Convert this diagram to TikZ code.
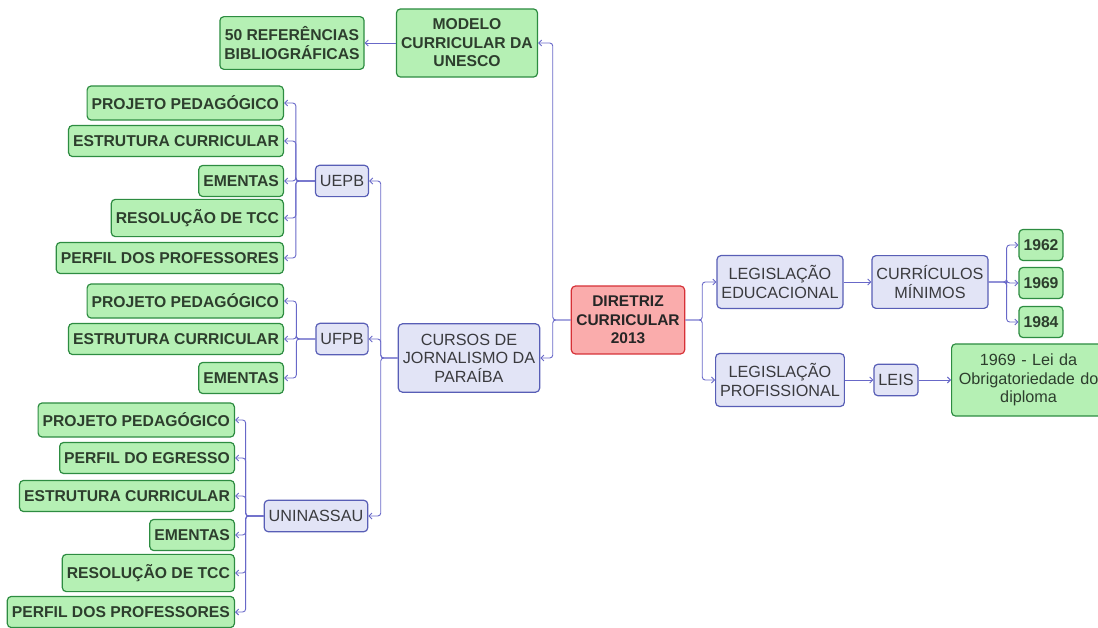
\documentclass[tikz,border=0pt]{standalone}
\usepackage{fontspec}
\setmainfont{Liberation Sans}
\definecolor{leafgreen}{RGB}{181, 240, 180}
\definecolor{leafedge}{RGB}{45, 140, 65}
\definecolor{leaftext}{RGB}{45, 62, 45}
\definecolor{hubblue}{RGB}{226, 228, 246}
\definecolor{hubedge}{RGB}{88, 94, 182}
\definecolor{hubtext}{RGB}{58, 58, 62}
\definecolor{rootred}{RGB}{250, 172, 172}
\definecolor{rootedge}{RGB}{214, 48, 54}
\definecolor{linkblue}{RGB}{104, 104, 200}
\usetikzlibrary{arrows.meta, calc}

\begin{document}
\begin{tikzpicture}[x=1pt, y=-1pt,
    leaf/.style={draw=leafedge, fill=leafgreen, line width=1.2pt, rounded corners=4pt,
      inner xsep=4.5pt, inner ysep=10pt, minimum height=31pt, align=center, text=leaftext,
      font=\fontsize{15.7}{18.5}\selectfont\bfseries},
    hub/.style={draw=hubedge, fill=hubblue, line width=1.2pt, rounded corners=4pt,
      inner xsep=4.5pt, inner ysep=10pt, minimum height=31pt, align=center, text=hubtext,
      font=\fontsize{16.2}{18.5}\selectfont},
    root/.style={draw=rootedge, fill=rootred, line width=1.2pt, rounded corners=4pt,
      inner xsep=5pt, inner ysep=10pt, align=center, text=black!85,
      font=\fontsize{15.5}{18.5}\selectfont\bfseries},
    conn/.style={draw=linkblue, line width=0.9pt, rounded corners=3pt,
      -{Straight Barb[length=3pt, width=6pt]}}]
  \useasboundingbox (0,0) rectangle (1098,628);

  % Root
  \node[root] (diretriz) at (628, 320) {DIRETRIZ\\CURRICULAR\\2013};

  % UNESCO branch
  \node[leaf, minimum width=141pt] (modelo) at (467, 43) {MODELO\\CURRICULAR DA\\UNESCO};
  \node[leaf] (refs) at (292, 43) {50 REFERÊNCIAS\\BIBLIOGRÁFICAS};

  % Cursos branch
  \node[hub, minimum width=141pt] (cursos) at (469, 358) {CURSOS DE\\JORNALISMO DA\\PARAÍBA};
  \node[hub] (uepb) at (342, 181) {UEPB};
  \node[hub] (ufpb) at (342, 339) {UFPB};
  \node[hub] (uninassau) at (316, 516) {UNINASSAU};

  % UEPB
  \node[leaf, anchor=east] (uepb1) at (284, 103) {PROJETO PEDAGÓGICO};
  \node[leaf, anchor=east] (uepb2) at (284, 141) {ESTRUTURA CURRICULAR};
  \node[leaf, anchor=east] (uepb3) at (284, 181) {EMENTAS};
  \node[leaf, anchor=east] (uepb4) at (284, 218) {RESOLUÇÃO DE TCC};
  \node[leaf, anchor=east] (uepb5) at (284, 258) {PERFIL DOS PROFESSORES};

  % UFPB
  \node[leaf, anchor=east] (ufpb1) at (284, 301) {PROJETO PEDAGÓGICO};
  \node[leaf, anchor=east] (ufpb2) at (284, 339) {ESTRUTURA CURRICULAR};
  \node[leaf, anchor=east] (ufpb3) at (284, 378) {EMENTAS};

  % UNINASSAU
  \node[leaf, anchor=east] (unin1) at (235, 420) {PROJETO PEDAGÓGICO};
  \node[leaf, anchor=east] (unin2) at (235, 458) {PERFIL DO EGRESSO};
  \node[leaf, anchor=east] (unin3) at (235, 496) {ESTRUTURA CURRICULAR};
  \node[leaf, anchor=east] (unin4) at (235, 535) {EMENTAS};
  \node[leaf, anchor=east] (unin5) at (235, 573) {RESOLUÇÃO DE TCC};
  \node[leaf, anchor=east] (unin6) at (235, 612) {PERFIL DOS PROFESSORES};

  % Legislation branch
  \node[hub] (legedu) at (780, 282) {LEGISLAÇÃO\\EDUCACIONAL};
  \node[hub] (curric) at (930, 282) {CURRÍCULOS\\MÍNIMOS};
  \node[leaf] (y1962) at (1041, 245) {1962};
  \node[leaf] (y1969) at (1041, 283) {1969};
  \node[leaf] (y1984) at (1041, 322) {1984};
  \node[hub] (legprof) at (780, 380) {LEGISLAÇÃO\\PROFISSIONAL};
  \node[hub] (leis) at (896, 380) {LEIS};
  \node[leaf, anchor=west, inner xsep=2pt, text width=150pt,
    font=\fontsize{16.2}{18.5}\selectfont] (lei1969) at (951, 380) {1969 - Lei da\\Obrigatoriedade do\\diploma};

  % Connectors, left side
  \draw[conn] (diretriz.west) -- ++(-18,0) |- (modelo.east);
  \draw[conn] (diretriz.west) -- ++(-18,0) |- (cursos.east);
  \draw[conn] (modelo.west) -- (refs.east);
  \draw[conn] (cursos.west) -- ++(-17,0) |- (uepb.east);
  \draw[conn] (cursos.west) -- ++(-17,0) |- (ufpb.east);
  \draw[conn] (cursos.west) -- ++(-17,0) |- (uninassau.east);
  \draw[conn] (uepb.west) -- ++(-19,0) |- (uepb1.east);
  \draw[conn] (uepb.west) -- ++(-19,0) |- (uepb2.east);
  \draw[conn] (uepb.west) -- ++(-19,0) |- (uepb3.east);
  \draw[conn] (uepb.west) -- ++(-19,0) |- (uepb4.east);
  \draw[conn] (uepb.west) -- ++(-19,0) |- (uepb5.east);
  \draw[conn] (ufpb.west) -- ++(-19,0) |- (ufpb1.east);
  \draw[conn] (ufpb.west) -- ++(-19,0) |- (ufpb2.east);
  \draw[conn] (ufpb.west) -- ++(-19,0) |- (ufpb3.east);
  \draw[conn] (uninassau.west) -- ++(-18,0) |- (unin1.east);
  \draw[conn] (uninassau.west) -- ++(-18,0) |- (unin2.east);
  \draw[conn] (uninassau.west) -- ++(-18,0) |- (unin3.east);
  \draw[conn] (uninassau.west) -- ++(-18,0) |- (unin4.east);
  \draw[conn] (uninassau.west) -- ++(-18,0) |- (unin5.east);
  \draw[conn] (uninassau.west) -- ++(-18,0) |- (unin6.east);

  % Connectors, right side
  \draw[conn] (diretriz.east) -- ++(17,0) |- (legedu.west);
  \draw[conn] (diretriz.east) -- ++(17,0) |- (legprof.west);
  \draw[conn] (legedu.east) -- (curric.west);
  \draw[conn] (curric.east) -- ++(18,0) |- (y1962.west);
  \draw[conn] (curric.east) -- ++(18,0) |- (y1969.west);
  \draw[conn] (curric.east) -- ++(18,0) |- (y1984.west);
  \draw[conn] (legprof.east) -- (leis.west);
  \draw[conn] (leis.east) -- (lei1969.west);
\end{tikzpicture}
\end{document}
